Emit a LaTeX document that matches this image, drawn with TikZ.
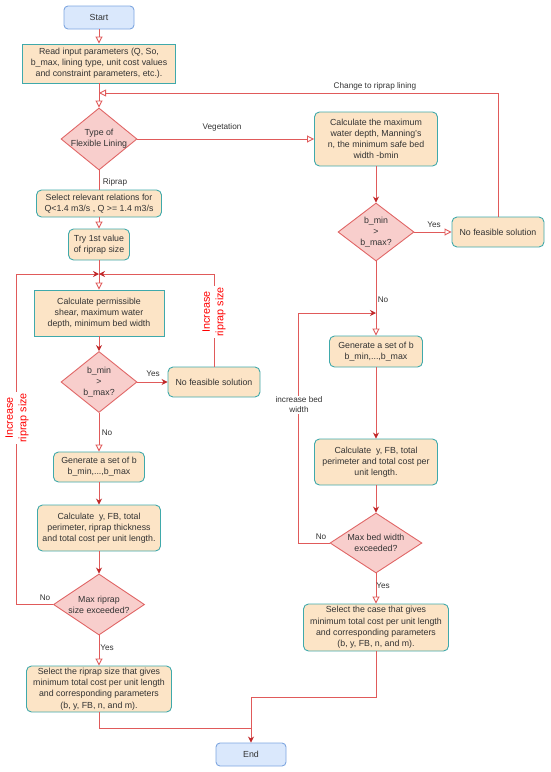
\documentclass[tikz,border=0pt]{standalone}
\usepackage{fontspec}
\setmainfont{Liberation Sans}
\usetikzlibrary{arrows.meta,shapes.geometric}
\definecolor{boxfill}{HTML}{FCE4C6}
\definecolor{boxline}{HTML}{3FA9AB}
\definecolor{endfill}{HTML}{DAE8FC}
\definecolor{endline}{HTML}{7EA6E0}
\definecolor{diafill}{HTML}{F8CECC}
\definecolor{dialine}{HTML}{E06666}
\definecolor{flow}{HTML}{E05A5A}
\definecolor{tipdark}{HTML}{C0282A}
\definecolor{txt}{HTML}{333333}

\begin{document}
\begin{tikzpicture}[x=1pt,y=-1pt,
  every node/.style={text=txt,font=\fontsize{8.8}{11.2}\selectfont},
  proc/.style={draw=boxline,fill=boxfill,line width=0.9pt,align=center,inner sep=1pt},
  procr/.style={proc,rounded corners=5pt},
  term/.style={draw=endline,fill=endfill,line width=0.9pt,rounded corners=4pt,minimum width=70pt,minimum height=23pt},
  dia/.style={diamond,draw=dialine,fill=diafill,line width=0.9pt,inner sep=0pt},
  dtext/.style={align=center},
  lab/.style={font=\fontsize{8.2}{10}\selectfont},
  redlab/.style={text=red,rotate=90,fill=white,align=center,inner sep=1pt,font=\fontsize{10.8}{13.5}\selectfont},
  flowline/.style={draw=flow,line width=0.9pt},
  openarr/.style={flowline,-{Triangle[open,fill=white,length=7pt,width=7pt]}},
  fillarr/.style={flowline,-{Stealth[fill=tipdark,color=tipdark,length=6pt,width=6pt]}}
]
\useasboundingbox (0,0) rectangle (550,772);

\node[term] (start) at (99,17.5) {Start};
\node[proc,minimum width=153pt,minimum height=39pt] (readin) at (99,63.5) {Read input parameters (Q, So,\\b\_max, lining type, unit cost values\\and constraint parameters, etc.).};
\node[dia,minimum width=76pt,minimum height=62pt,label={[dtext]center:{Type of\\Flexible Lining}}] (lining) at (99,139) {};
\node[procr,minimum width=123pt,minimum height=54pt] (vegcalc) at (376,139) {Calculate the maximum\\water depth, Manning's\\n, the minimum safe bed\\width -bmin};
\node[dia,minimum width=76pt,minimum height=58pt,label={[dtext]center:{b\_min\\>\\b\_max?}}] (bminR) at (376,232) {};
\node[procr,minimum width=92pt,minimum height=30pt] (nofeasR) at (498,232) {No feasible solution};
\node[procr,minimum width=125pt,minimum height=27pt] (relations) at (99,203.5) {Select relevant relations for\\Q<1.4 m3/s , Q >= 1.4 m3/s};
\node[procr,minimum width=61pt,minimum height=31pt] (tryfirst) at (99,244.5) {Try 1st value\\of riprap size};
\node[proc,minimum width=130pt,minimum height=46pt] (permiss) at (99,313) {Calculate permissible\\shear, maximum water\\depth, minimum bed width};
\node[dia,minimum width=76pt,minimum height=61pt,label={[dtext]center:{b\_min\\>\\b\_max?}}] (bminL) at (99,382) {};
\node[procr,minimum width=92pt,minimum height=30pt] (nofeasL) at (214,382) {No feasible solution};
\node[procr,minimum width=91pt,minimum height=30pt] (genL) at (99,467) {Generate a set of b\\b\_min,...,b\_max};
\node[procr,minimum width=123pt,minimum height=46pt] (calcL) at (99,528) {Calculate \ y, FB, total\\perimeter, riprap thickness\\and total cost per unit length.};
\node[dia,minimum width=91pt,minimum height=61pt,label={[dtext]center:{Max riprap\\size exceeded?}}] (maxrip) at (99,604.5) {};
\node[procr,minimum width=145pt,minimum height=46pt] (selL) at (99,689) {Select the riprap size that gives\\minimum total cost per unit length\\and corresponding parameters\\(b, y, FB, n, and m).};
\node[procr,minimum width=93pt,minimum height=31pt] (genR) at (376,351.5) {Generate a set of b\\b\_min,...,b\_max};
\node[procr,minimum width=123pt,minimum height=46pt] (calcR) at (376,462) {Calculate \ y, FB, total\\perimeter and total cost per\\unit length.};
\node[dia,minimum width=92pt,minimum height=60pt,label={[dtext]center:{Max bed width\\exceeded?}}] (maxbed) at (376,543) {};
\node[procr,minimum width=145pt,minimum height=47pt] (selR) at (376,627.5) {Select the case that gives\\minimum total cost per unit length\\and corresponding parameters\\(b, y, FB, n, and m).};
\node[term] (end) at (251,754.5) {End};

\coordinate (backin) at (99,93);
\coordinate (joinL) at (99,274);
\coordinate (loopL) at (16,274);
\coordinate (joinR) at (376,313);
\coordinate (loopR) at (298,313);
\coordinate (bendR) at (251,697);
\coordinate (bendL) at (251,728);

\draw[openarr] (start) -- (readin);
\draw[openarr] (readin) -- (lining);
\draw[openarr] (nofeasR.north) |- (backin);
\draw[openarr] (lining.east) -- (vegcalc.west);
\draw[flowline] (lining.south) -- (relations.north);
\draw[openarr] (relations) -- (tryfirst);
\draw[flowline] (tryfirst.south) -- (joinL);
\draw[openarr] (joinL) -- (permiss.north);
\draw[fillarr] (permiss) -- (bminL);
\draw[fillarr] (bminL.east) -- (nofeasL.west);
\draw[fillarr] (nofeasL.north) |- (joinL);
\draw[openarr] (bminL) -- (genL);
\draw[fillarr] (genL) -- (calcL);
\draw[fillarr] (calcL) -- (maxrip);
\draw[fillarr] (maxrip.west) -| (loopL) -- (joinL);
\draw[openarr] (maxrip) -- (selL);
\draw[fillarr] (vegcalc) -- (bminR);
\draw[openarr] (bminR.east) -- (nofeasR.west);
\draw[flowline] (bminR.south) -- (joinR);
\draw[openarr] (joinR) -- (genR.north);
\draw[fillarr] (genR) -- (calcR);
\draw[fillarr] (calcR) -- (maxbed);
\draw[fillarr] (maxbed.west) -| (loopR) -- (joinR);
\draw[openarr] (maxbed) -- (selR);
\draw[fillarr] (selR.south) |- (bendR) -- (end.north);
\draw[flowline] (selL.south) |- (bendL);

\node[lab] (vegtxt) at (222,127) {Vegetation};
\node[lab] (riptxt) at (115,182) {Riprap};
\node[lab] (changetxt) at (375,86) {Change to riprap lining};
\node[lab] (yesR) at (434,225) {Yes};
\node[lab] (noR) at (383,300) {No};
\node[lab] (yesL) at (153,374) {Yes};
\node[lab] (noL) at (107,433) {No};
\node[lab] (noripL) at (45,598) {No};
\node[lab] (yesripL) at (107,648) {Yes};
\node[lab] (nobedR) at (321,537) {No};
\node[lab] (yesbedR) at (383,586) {Yes};
\node[lab,fill=white,align=center,inner sep=1pt] (bedtxt) at (299,405) {increase bed\\width};
\node[redlab] (incR) at (214,312) {Increase\\riprap size};
\node[redlab] (incL) at (17,418) {Increase\\riprap size};
\end{tikzpicture}
\end{document}
